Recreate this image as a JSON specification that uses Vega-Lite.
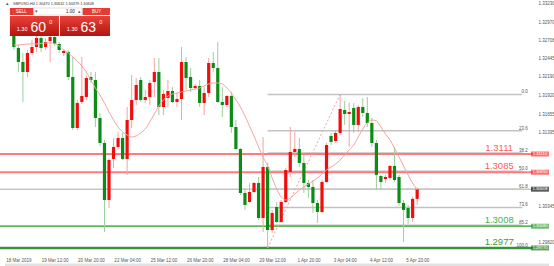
{
  "$schema": "https://vega.github.io/schema/vega-lite/v6.json",
  "width": 534,
  "height": 253,
  "autosize": {"type": "none"},
  "padding": {"left": 0, "top": 0, "right": 20, "bottom": 13},
  "background": "white",
  "config": {"view": {"stroke": null}, "font": "Liberation Sans"},
  "resolve": {"scale": {"color": "independent"}, "axis": {"x": "independent", "y": "independent"}},
  "datasets": {
    "candles": [
      {"i":1,"o":1.32835,"h":1.32907,"l":1.32593,"c":1.32636,"ma":1.32664},
      {"i":2,"o":1.32622,"h":1.32664,"l":1.32279,"c":1.32422,"ma":1.32664},
      {"i":3,"o":1.32422,"h":1.3255,"l":1.31851,"c":1.32279,"ma":1.32671},
      {"i":4,"o":1.32279,"h":1.32593,"l":1.32208,"c":1.3255,"ma":1.32679},
      {"i":5,"o":1.3255,"h":1.32736,"l":1.32522,"c":1.32636,"ma":1.32679},
      {"i":6,"o":1.32636,"h":1.32793,"l":1.32565,"c":1.32764,"ma":1.32679},
      {"i":7,"o":1.32764,"h":1.32793,"l":1.32565,"c":1.32622,"ma":1.32686},
      {"i":8,"o":1.32636,"h":1.32764,"l":1.32593,"c":1.32707,"ma":1.32693},
      {"i":9,"o":1.32721,"h":1.32807,"l":1.32422,"c":1.32778,"ma":1.32693},
      {"i":10,"o":1.32778,"h":1.32807,"l":1.3265,"c":1.32679,"ma":1.32686},
      {"i":11,"o":1.32679,"h":1.32707,"l":1.3255,"c":1.32593,"ma":1.3265},
      {"i":12,"o":1.3255,"h":1.32607,"l":1.32507,"c":1.32579,"ma":1.32593},
      {"i":13,"o":1.32565,"h":1.32593,"l":1.32165,"c":1.32208,"ma":1.3255},
      {"i":14,"o":1.32208,"h":1.32493,"l":1.31452,"c":1.31481,"ma":1.32493},
      {"i":15,"o":1.31481,"h":1.3188,"l":1.31452,"c":1.31837,"ma":1.32436},
      {"i":16,"o":1.31851,"h":1.32493,"l":1.31823,"c":1.31937,"ma":1.32365},
      {"i":17,"o":1.31923,"h":1.32237,"l":1.3188,"c":1.32194,"ma":1.32279},
      {"i":18,"o":1.32208,"h":1.32279,"l":1.32122,"c":1.32165,"ma":1.32165},
      {"i":19,"o":1.32165,"h":1.32279,"l":1.31495,"c":1.31623,"ma":1.32051},
      {"i":20,"o":1.31623,"h":1.31695,"l":1.31224,"c":1.31267,"ma":1.31951},
      {"i":21,"o":1.31267,"h":1.3131,"l":1.29998,"c":1.30454,"ma":1.31837},
      {"i":22,"o":1.30454,"h":1.31053,"l":1.3034,"c":1.31024,"ma":1.31709},
      {"i":23,"o":1.31039,"h":1.31338,"l":1.3091,"c":1.3121,"ma":1.31595},
      {"i":24,"o":1.3121,"h":1.31424,"l":1.31167,"c":1.31338,"ma":1.31495},
      {"i":25,"o":1.31338,"h":1.3141,"l":1.31024,"c":1.31039,"ma":1.31424},
      {"i":26,"o":1.31039,"h":1.3178,"l":1.30811,"c":1.31595,"ma":1.31381},
      {"i":27,"o":1.31595,"h":1.32237,"l":1.31481,"c":1.3188,"ma":1.31352},
      {"i":28,"o":1.3188,"h":1.32194,"l":1.31809,"c":1.32094,"ma":1.31367},
      {"i":29,"o":1.32165,"h":1.32208,"l":1.31851,"c":1.3188,"ma":1.3141},
      {"i":30,"o":1.3188,"h":1.32023,"l":1.31837,"c":1.31923,"ma":1.31467},
      {"i":31,"o":1.31923,"h":1.32165,"l":1.31809,"c":1.32122,"ma":1.31566},
      {"i":32,"o":1.32137,"h":1.32479,"l":1.31923,"c":1.32279,"ma":1.3168},
      {"i":33,"o":1.32279,"h":1.32479,"l":1.31666,"c":1.3178,"ma":1.31794},
      {"i":34,"o":1.3178,"h":1.32023,"l":1.31666,"c":1.31966,"ma":1.3188},
      {"i":35,"o":1.31909,"h":1.32165,"l":1.3178,"c":1.32008,"ma":1.31937},
      {"i":36,"o":1.32008,"h":1.32065,"l":1.31837,"c":1.31851,"ma":1.31966},
      {"i":37,"o":1.31851,"h":1.3198,"l":1.3178,"c":1.31894,"ma":1.3198},
      {"i":38,"o":1.31894,"h":1.32636,"l":1.31595,"c":1.32422,"ma":1.31994},
      {"i":39,"o":1.32422,"h":1.32493,"l":1.32023,"c":1.32194,"ma":1.32008},
      {"i":40,"o":1.32208,"h":1.32336,"l":1.31994,"c":1.32051,"ma":1.32023},
      {"i":41,"o":1.32051,"h":1.32108,"l":1.32023,"c":1.3208,"ma":1.32037},
      {"i":42,"o":1.3208,"h":1.32165,"l":1.3178,"c":1.31837,"ma":1.32051},
      {"i":43,"o":1.31837,"h":1.32065,"l":1.31666,"c":1.3198,"ma":1.3208},
      {"i":44,"o":1.3198,"h":1.32479,"l":1.31923,"c":1.32408,"ma":1.32108},
      {"i":45,"o":1.32408,"h":1.32565,"l":1.32279,"c":1.32336,"ma":1.32122},
      {"i":46,"o":1.32336,"h":1.32707,"l":1.31837,"c":1.31851,"ma":1.32122},
      {"i":47,"o":1.31851,"h":1.32065,"l":1.31638,"c":1.31809,"ma":1.32108},
      {"i":48,"o":1.31809,"h":1.31951,"l":1.3178,"c":1.31937,"ma":1.32051},
      {"i":49,"o":1.31937,"h":1.31994,"l":1.3141,"c":1.31495,"ma":1.3198},
      {"i":50,"o":1.31495,"h":1.31595,"l":1.31167,"c":1.31181,"ma":1.3188},
      {"i":51,"o":1.31181,"h":1.31196,"l":1.30525,"c":1.30554,"ma":1.3178},
      {"i":52,"o":1.30554,"h":1.30625,"l":1.30311,"c":1.30383,"ma":1.31652},
      {"i":53,"o":1.30425,"h":1.30696,"l":1.30411,"c":1.30568,"ma":1.31509},
      {"i":54,"o":1.30568,"h":1.30711,"l":1.30554,"c":1.30696,"ma":1.31367},
      {"i":55,"o":1.30696,"h":1.30782,"l":1.30169,"c":1.30197,"ma":1.3121},
      {"i":56,"o":1.30197,"h":1.31352,"l":1.29998,"c":1.30925,"ma":1.31067},
      {"i":57,"o":1.30925,"h":1.30982,"l":1.2977,"c":1.30026,"ma":1.30939},
      {"i":58,"o":1.30026,"h":1.30311,"l":1.29984,"c":1.30269,"ma":1.30768},
      {"i":59,"o":1.30354,"h":1.30425,"l":1.30126,"c":1.3014,"ma":1.30611},
      {"i":60,"o":1.3014,"h":1.30454,"l":1.30126,"c":1.30425,"ma":1.30497},
      {"i":61,"o":1.30425,"h":1.3091,"l":1.30411,"c":1.30882,"ma":1.30454},
      {"i":62,"o":1.30854,"h":1.31495,"l":1.30782,"c":1.31139,"ma":1.30483},
      {"i":63,"o":1.31139,"h":1.31424,"l":1.31067,"c":1.31181,"ma":1.3054},
      {"i":64,"o":1.31181,"h":1.31338,"l":1.30925,"c":1.30982,"ma":1.30597},
      {"i":65,"o":1.30982,"h":1.31096,"l":1.30554,"c":1.30696,"ma":1.3064},
      {"i":66,"o":1.30696,"h":1.30739,"l":1.30483,"c":1.3064,"ma":1.30682},
      {"i":67,"o":1.3064,"h":1.30739,"l":1.30269,"c":1.30411,"ma":1.30725},
      {"i":68,"o":1.30411,"h":1.30454,"l":1.30126,"c":1.30283,"ma":1.30768},
      {"i":69,"o":1.30283,"h":1.30739,"l":1.30269,"c":1.30711,"ma":1.30825},
      {"i":70,"o":1.30711,"h":1.31267,"l":1.30696,"c":1.31238,"ma":1.30882},
      {"i":71,"o":1.31367,"h":1.3141,"l":1.31238,"c":1.31281,"ma":1.30925},
      {"i":72,"o":1.31295,"h":1.31452,"l":1.31267,"c":1.3141,"ma":1.30967},
      {"i":73,"o":1.3141,"h":1.3196,"l":1.31381,"c":1.31752,"ma":1.31024},
      {"i":74,"o":1.31737,"h":1.31866,"l":1.31524,"c":1.3168,"ma":1.31096},
      {"i":75,"o":1.3168,"h":1.31837,"l":1.3121,"c":1.31709,"ma":1.31167},
      {"i":76,"o":1.31766,"h":1.31837,"l":1.3141,"c":1.31524,"ma":1.31238},
      {"i":77,"o":1.31524,"h":1.31809,"l":1.31424,"c":1.3178,"ma":1.31352},
      {"i":78,"o":1.3178,"h":1.31909,"l":1.31638,"c":1.31695,"ma":1.31467},
      {"i":79,"o":1.31695,"h":1.31923,"l":1.31495,"c":1.31552,"ma":1.31552},
      {"i":80,"o":1.31552,"h":1.31623,"l":1.3121,"c":1.31267,"ma":1.31595},
      {"i":81,"o":1.31267,"h":1.3131,"l":1.30597,"c":1.30811,"ma":1.31581},
      {"i":82,"o":1.30796,"h":1.30811,"l":1.30597,"c":1.30711,"ma":1.31495},
      {"i":83,"o":1.30753,"h":1.30811,"l":1.30696,"c":1.30782,"ma":1.31395},
      {"i":84,"o":1.30768,"h":1.30953,"l":1.30739,"c":1.30939,"ma":1.3131},
      {"i":85,"o":1.30939,"h":1.3121,"l":1.30711,"c":1.30739,"ma":1.31196},
      {"i":86,"o":1.30782,"h":1.30811,"l":1.30368,"c":1.30411,"ma":1.31067},
      {"i":87,"o":1.30411,"h":1.30454,"l":1.29855,"c":1.30311,"ma":1.30939},
      {"i":88,"o":1.3034,"h":1.30383,"l":1.30112,"c":1.30197,"ma":1.30811},
      {"i":89,"o":1.30197,"h":1.30497,"l":1.3014,"c":1.3047,"ma":1.30696},
      {"i":90,"o":1.3047,"h":1.30632,"l":1.30379,"c":1.30608,"ma":1.30597}
    ],
    "fib": [
      {"level":"0.0","price":1.3196},
      {"level":"23.6","price":1.31443},
      {"level":"38.2","price":1.31123},
      {"level":"50.0","price":1.30865},
      {"level":"61.8","price":1.30606},
      {"level":"73.6","price":1.30348},
      {"level":"85.2","price":1.30094},
      {"level":"100.0","price":1.2977}
    ],
    "hlines": [
      {"price":1.3111,"name":"1.3111"},
      {"price":1.3085,"name":"1.3085"},
      {"price":1.3008,"name":"1.3008"},
      {"price":1.2977,"name":"1.2977"}
    ],
    "tags": [
      {"price":1.3111,"tag":"1.31110","kind":"r"},
      {"price":1.3085,"tag":"1.30850","kind":"r"},
      {"price":1.30608,"tag":"1.30608","kind":"b"},
      {"price":1.3008,"tag":"1.30080","kind":"g"},
      {"price":1.2977,"tag":"1.29770","kind":"g2"}
    ]
  },
  "layer": [
    {
      "data": {"name": "fib"},
      "mark": {"type": "rule", "color": "#c2c2c2", "strokeWidth": 1.5},
      "encoding": {
        "x": {"datum": 57, "type": "quantitative",
              "scale": {"domain": [-0.953, 114.68], "nice": false, "zero": false}, "axis": null},
        "x2": {"datum": 113.2},
        "y": {"field": "price", "type": "quantitative",
              "scale": {"domain": [1.29698, 1.33306], "nice": false, "zero": false}, "axis": null}
      }
    },
    {
      "data": {"name": "fib"},
      "mark": {"type": "text", "align": "right", "baseline": "alphabetic", "dy": -1, "fontSize": 4.5, "color": "#555"},
      "encoding": {
        "x": {"datum": 114.4, "type": "quantitative", "axis": null},
        "y": {"field": "price", "type": "quantitative", "axis": null},
        "text": {"field": "level"}
      }
    },
    {
      "data": {"values": [{"price": 1.30608}]},
      "mark": {"type": "rule", "color": "#c6c6c6", "strokeWidth": 1.5},
      "encoding": {"y": {"field": "price", "type": "quantitative", "axis": null}}
    },
    {
      "data": {"name": "hlines"},
      "mark": {"type": "rule"},
      "encoding": {
        "y": {"field": "price", "type": "quantitative", "axis": null},
        "color": {"field": "name", "type": "nominal", "legend": null,
                  "scale": {"domain": ["1.3111","1.3085","1.3008","1.2977"], "range": ["#ff7b7b","#ff7b7b","#62b862","#3a8f3a"]}},
        "strokeWidth": {"condition": [{"test": "datum.name==='1.2977'", "value": 2.5}, {"test": "datum.name==='1.3008'", "value": 1.8}], "value": 2}
      }
    },
    {
      "data": {"name": "hlines"},
      "mark": {"type": "text", "align": "center", "baseline": "alphabetic", "dy": -3, "fontSize": 9.5},
      "encoding": {
        "x": {"datum": 108.1, "type": "quantitative", "axis": null},
        "y": {"field": "price", "type": "quantitative", "axis": null},
        "text": {"field": "name"},
        "color": {"field": "name", "type": "nominal", "legend": null,
                  "scale": {"domain": ["1.3111","1.3085","1.3008","1.2977"], "range": ["#ff5c5c","#ff5c5c","#4caf50","#3d9a3d"]}}
      }
    },
    {
      "data": {"values": [{"a": 1}]},
      "mark": {"type": "rule", "color": "#f5a0a0", "strokeWidth": 1, "strokeDash": [2, 2]},
      "encoding": {
        "x": {"datum": 57, "type": "quantitative", "axis": null},
        "x2": {"datum": 73},
        "y": {"datum": 1.2977, "type": "quantitative", "axis": null},
        "y2": {"datum": 1.3196}
      }
    },
    {
      "data": {"name": "candles"},
      "mark": {"type": "rule", "strokeWidth": 1},
      "encoding": {
        "x": {"field": "i", "type": "quantitative",
              "axis": {"values": [2,10,18,26,34,42,50,58,66,74,82,90],
                       "labelExpr": "['18 Mar 2019','19 Mar 12:00','20 Mar 20:00','22 Mar 04:00','25 Mar 12:00','26 Mar 20:00','28 Mar 04:00','29 Mar 12:00','1 Apr 20:00','3 Apr 04:00','4 Apr 12:00','5 Apr 20:00'][(datum.value-2)/8]",
                       "title": null, "ticks": false, "domain": false, "grid": false,
                       "labelFontSize": 4.5, "labelColor": "#555", "labelPadding": 4,
                       "labelFlush": false, "labelOverlap": false}},
        "y": {"field": "l", "type": "quantitative",
              "axis": {"orient": "right",
                       "values": [1.3323,1.3297,1.32708,1.32445,1.3219,1.3192,1.31655,1.31395,1.30345,1.2982],
                       "format": ".5f", "title": null, "ticks": false, "domain": false, "grid": false,
                       "labelFontSize": 4.5, "labelColor": "#555", "labelPadding": 4, "labelOffset": -1.5}},
        "y2": {"field": "h"},
        "color": {"condition": {"test": "datum.c >= datum.o", "value": "#f5a3a3"}, "value": "#9ccf9c"}
      }
    },
    {
      "data": {"name": "candles"},
      "mark": {"type": "bar", "size": 3.2},
      "encoding": {
        "x": {"field": "i", "type": "quantitative", "axis": null},
        "y": {"field": "o", "type": "quantitative", "axis": null},
        "y2": {"field": "c"},
        "color": {"condition": {"test": "datum.c >= datum.o", "value": "#f20d0d"}, "value": "#0b8c16"}
      }
    },
    {
      "data": {"name": "candles"},
      "mark": {"type": "line", "color": "#f5a3a3", "strokeWidth": 1, "interpolate": "monotone"},
      "encoding": {
        "x": {"field": "i", "type": "quantitative", "axis": null},
        "y": {"field": "ma", "type": "quantitative", "axis": null}
      }
    },
    {
      "data": {"name": "tags"},
      "mark": {"type": "tick", "orient": "horizontal", "size": 18, "thickness": 5},
      "encoding": {
        "x": {"datum": 117.1, "type": "quantitative", "axis": null},
        "y": {"field": "price", "type": "quantitative", "axis": null},
        "color": {"field": "kind", "type": "nominal", "legend": null,
                  "scale": {"domain": ["r","b","g","g2"], "range": ["#ff2d2d","#141414","#2f9e2f","#1f7f1f"]}}
      }
    },
    {
      "data": {"name": "tags"},
      "mark": {"type": "text", "align": "center", "baseline": "middle", "fontSize": 4.2, "color": "white"},
      "encoding": {
        "x": {"datum": 117.1, "type": "quantitative", "axis": null},
        "y": {"field": "price", "type": "quantitative", "axis": null},
        "text": {"field": "tag"}
      }
    },
    {
      "data": {"values": [{"a": 1}]},
      "mark": {"type": "rect", "fill": "#e2e2e2"},
      "encoding": {
        "x": {"datum": -0.953, "type": "quantitative", "axis": null},
        "x2": {"datum": 119.1},
        "y": {"datum": 1.29548, "type": "quantitative", "axis": null},
        "y2": {"datum": 1.29513}
      }
    },
    {
      "data": {"values": [{"a": 1}]},
      "mark": {"type": "rect", "fill": {"gradient": "linear", "x1": 0, "y1": 0, "x2": 0, "y2": 1, "stops": [{"offset": 0, "color": "#e8423a"}, {"offset": 1, "color": "#b5130f"}]}},
      "encoding": {
        "x": {"datum": 0.13, "type": "quantitative", "axis": null},
        "x2": {"datum": 10.957},
        "y": {"datum": 1.33078, "type": "quantitative", "axis": null},
        "y2": {"datum": 1.32793}
      }
    },
    {
      "data": {"values": [{"a": 1}]},
      "mark": {"type": "rect", "fill": {"gradient": "linear", "x1": 0, "y1": 0, "x2": 0, "y2": 1, "stops": [{"offset": 0, "color": "#e8423a"}, {"offset": 1, "color": "#b5130f"}]}},
      "encoding": {
        "x": {"datum": 11.173, "type": "quantitative", "axis": null},
        "x2": {"datum": 22.217},
        "y": {"datum": 1.33078, "type": "quantitative", "axis": null},
        "y2": {"datum": 1.32793}
      }
    },
    {
      "data": {"values": [{"a": 1}]},
      "mark": {"type": "rect", "fill": "#e53b33"},
      "encoding": {
        "x": {"datum": 0.13, "type": "quantitative", "axis": null},
        "x2": {"datum": 5.327},
        "y": {"datum": 1.33192, "type": "quantitative", "axis": null},
        "y2": {"datum": 1.33092}
      }
    },
    {
      "data": {"values": [{"a": 1}]},
      "mark": {"type": "rect", "fill": "#e53b33"},
      "encoding": {
        "x": {"datum": 16.154, "type": "quantitative", "axis": null},
        "x2": {"datum": 22.217},
        "y": {"datum": 1.33192, "type": "quantitative", "axis": null},
        "y2": {"datum": 1.33092}
      }
    },
    {
      "data": {"values": [{"a": 1}]},
      "mark": {"type": "rect", "fill": "white", "stroke": "#cfcfcf", "strokeWidth": 0.6},
      "encoding": {
        "x": {"datum": 5.435, "type": "quantitative", "axis": null},
        "x2": {"datum": 16.045},
        "y": {"datum": 1.33192, "type": "quantitative", "axis": null},
        "y2": {"datum": 1.33092}
      }
    },
    {
      "data": {"values": [
        {"t": "SELL", "x": 2.62, "y": 1.33142, "s": "w"},
        {"t": "BUY", "x": 19.29, "y": 1.33142, "s": "w"},
        {"t": "▾", "x": 6.08, "y": 1.33142, "s": "g"},
        {"t": "▴", "x": 15.4, "y": 1.33142, "s": "g"}
      ]},
      "mark": {"type": "text", "align": "center", "baseline": "middle", "fontSize": 4.5},
      "encoding": {
        "x": {"field": "x", "type": "quantitative", "axis": null},
        "y": {"field": "y", "type": "quantitative", "axis": null},
        "text": {"field": "t"},
        "color": {"field": "s", "type": "nominal", "legend": null, "scale": {"domain": ["w", "g"], "range": ["#ffffff", "#666666"]}}
      }
    },
    {
      "data": {"values": [{"a": 1}]},
      "mark": {"type": "text", "align": "right", "baseline": "middle", "fontSize": 4.5, "color": "#222", "text": "1.00"},
      "encoding": {
        "x": {"datum": 14.42, "type": "quantitative", "axis": null},
        "y": {"datum": 1.33142, "type": "quantitative", "axis": null}
      }
    },
    {
      "data": {"values": [
        {"t": "1.30", "x": 1.645, "y": 1.32864},
        {"t": "1.30", "x": 12.69, "y": 1.32864},
        {"t": "0", "x": 8.79, "y": 1.32964},
        {"t": "0", "x": 19.83, "y": 1.32964}
      ]},
      "mark": {"type": "text", "align": "left", "baseline": "alphabetic", "fontSize": 5.5, "color": "white"},
      "encoding": {
        "x": {"field": "x", "type": "quantitative", "axis": null},
        "y": {"field": "y", "type": "quantitative", "axis": null},
        "text": {"field": "t"}
      }
    },
    {
      "data": {"values": [
        {"t": "60", "x": 4.677, "y": 1.3285},
        {"t": "63", "x": 15.72, "y": 1.3285}
      ]},
      "mark": {"type": "text", "align": "left", "baseline": "alphabetic", "fontSize": 14, "color": "white"},
      "encoding": {
        "x": {"field": "x", "type": "quantitative", "axis": null},
        "y": {"field": "y", "type": "quantitative", "axis": null},
        "text": {"field": "t"}
      }
    },
    {
      "data": {"values": [{"a": 1}]},
      "mark": {"type": "text", "align": "left", "baseline": "middle", "fontSize": 3.8, "color": "#333", "text": "GBPUSD,H4  1.30470  1.30632  1.30379  1.30608"},
      "encoding": {
        "x": {"datum": 0.779, "type": "quantitative", "axis": null},
        "y": {"datum": 1.33256, "type": "quantitative", "axis": null}
      }
    },
    {
      "data": {"values": [{"a": 1}]},
      "mark": {"type": "text", "align": "center", "baseline": "middle", "fontSize": 5, "color": "#555", "text": "▴"},
      "encoding": {
        "x": {"datum": -0.303, "type": "quantitative", "axis": null},
        "y": {"datum": 1.33263, "type": "quantitative", "axis": null}
      }
    }
  ]
}
